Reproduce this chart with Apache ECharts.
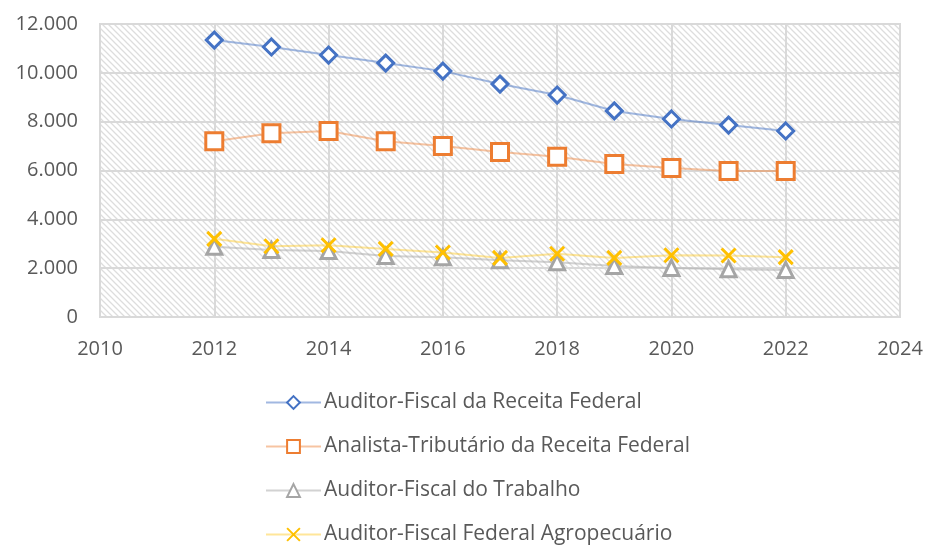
<!DOCTYPE html>
<html>
<head>
<meta charset="utf-8">
<script src="https://cdn.jsdelivr.net/npm/echarts@6/dist/echarts.min.js"></script>
<style>
  html, body { margin: 0; padding: 0; background: #fff; }
  #chart { width: 928px; height: 545px; }
</style>
</head>
<body>
<div id="chart"></div>
<script>
// data
const years = [2012, 2013, 2014, 2015, 2016, 2017, 2018, 2019, 2020, 2021, 2022];
const afrfb = [11340, 11060, 10730, 10400, 10070, 9540, 9090, 8440, 8110, 7860, 7620];
const atrfb = [7200, 7530, 7620, 7200, 7000, 6760, 6560, 6270, 6100, 5980, 5980];
const aft = [2880, 2740, 2700, 2500, 2450, 2320, 2240, 2090, 2010, 1960, 1930];
const affa = [3200, 2900, 2940, 2790, 2640, 2420, 2590, 2420, 2530, 2520, 2450];
const seriesNames = [
    "Auditor-Fiscal da Receita Federal",
    "Analista-Tributário da Receita Federal",
    "Auditor-Fiscal do Trabalho",
    "Auditor-Fiscal Federal Agropecuário"
];

// hatched background for the plot area
const hatch = document.createElement("canvas");
hatch.width = 6;
hatch.height = 6;
const hctx = hatch.getContext("2d");
hctx.fillStyle = "#ffffff";
hctx.fillRect(0, 0, 6, 6);
hctx.strokeStyle = "#dddddd";
hctx.lineWidth = 1.3;
hctx.beginPath();
hctx.moveTo(-1, -1); hctx.lineTo(7, 7);
hctx.moveTo(-4, 2); hctx.lineTo(2, 8);
hctx.moveTo(2, -4); hctx.lineTo(8, 2);
hctx.stroke();

const crossPath = "path://M0,0L10,10M10,0L0,10";

function toPairs(vals) {
    return vals.map((v, i) => [years[i], v]);
}

function makeSeries(name, vals, color, lineColor, symbol, size, isCross) {
    return {
        name: name,
        type: "line",
        data: toPairs(vals),
        symbol: symbol,
        symbolSize: size,
        showAllSymbol: true,
        lineStyle: { color: lineColor, width: 2 },
        itemStyle: isCross
            ? { color: color, borderColor: color, borderWidth: 3 }
            : { color: "#ffffff", borderColor: color, borderWidth: 3 },
        emphasis: { disabled: true },
        z: 3
    };
}

const chart = echarts.init(document.getElementById("chart"));

const option = {
    backgroundColor: "#ffffff",
    animation: false,
    textStyle: { fontFamily: "Open Sans" },
    grid: {
        left: 100,
        right: 28,
        top: 24,
        bottom: 228,
        show: true,
        backgroundColor: { image: hatch, repeat: "repeat" },
        borderColor: "#d9d9d9",
        borderWidth: 2
    },
    xAxis: {
        type: "value",
        min: 2010,
        max: 2024,
        interval: 2,
        axisLine: { lineStyle: { color: "#d9d9d9", width: 2 } },
        axisTick: { show: false },
        splitLine: { lineStyle: { color: "#d9d9d9", width: 2 } },
        axisLabel: {
            color: "#595959",
            fontSize: 20,
            margin: 22,
            formatter: v => String(v)
        }
    },
    yAxis: {
        type: "value",
        min: 0,
        max: 12000,
        interval: 2000,
        axisLine: { show: false },
        axisTick: { show: false },
        splitLine: { lineStyle: { color: "#d9d9d9", width: 2 } },
        axisLabel: {
            color: "#595959",
            fontSize: 20,
            margin: 22,
            formatter: v => v === 0 ? "0" : String(v / 1000) + ".000"
        }
    },
    legend: {
        orient: "vertical",
        left: 265,
        top: 392,
        padding: 0,
        itemWidth: 55,
        itemHeight: 16,
        itemGap: 23,
        textStyle: { color: "#595959", fontSize: 21, padding: [0, 0, 0, -2] },
        data: seriesNames
    },
    series: [
        makeSeries(seriesNames[0], afrfb, "#4472C4", "rgba(68,114,196,0.5)", "diamond", 16, false),
        makeSeries(seriesNames[1], atrfb, "#ED7D31", "rgba(237,125,49,0.45)", "rect", 17, false),
        makeSeries(seriesNames[2], aft, "#A5A5A5", "rgba(165,165,165,0.5)", "triangle", 15, false),
        makeSeries(seriesNames[3], affa, "#FFC000", "rgba(255,192,0,0.4)", crossPath, 14, true)
    ]
};

chart.setOption(option);
</script>
</body>
</html>
